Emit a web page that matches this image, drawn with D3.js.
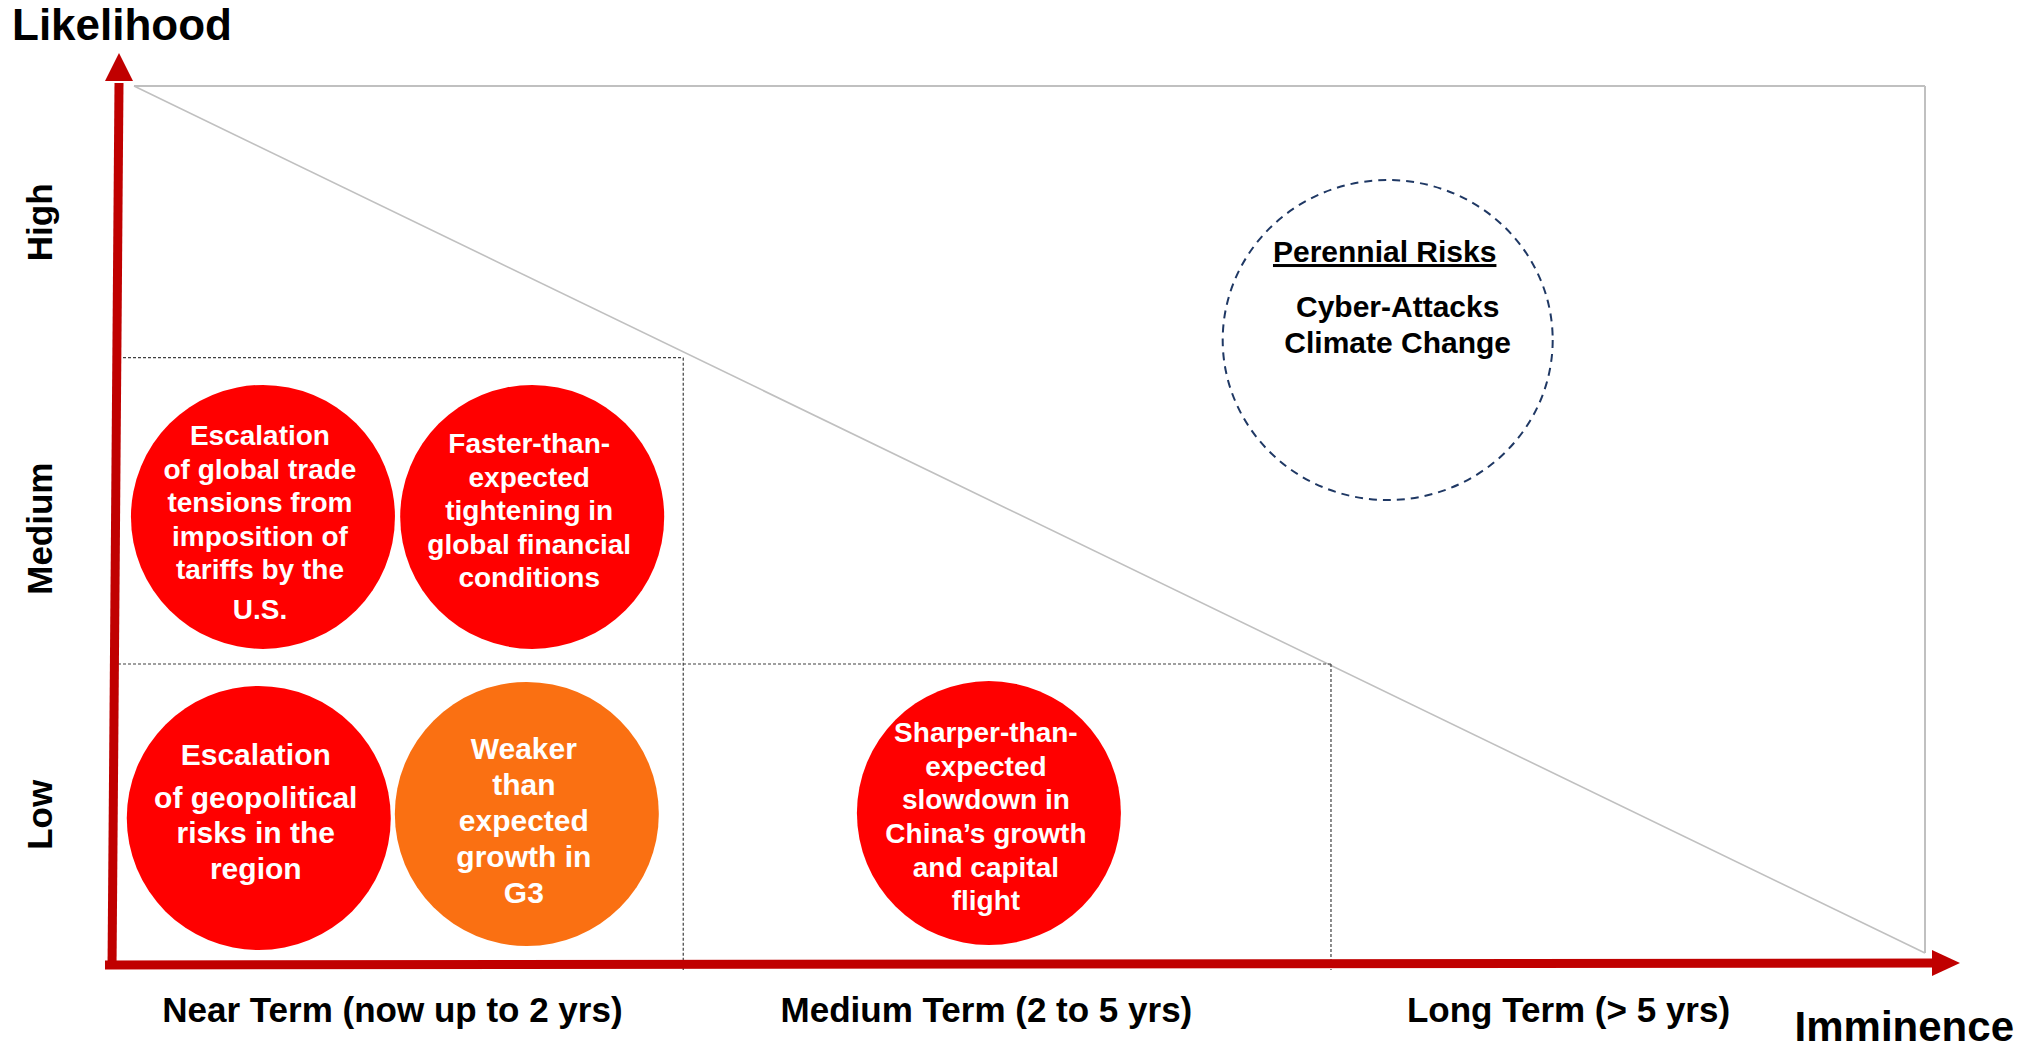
<!DOCTYPE html>
<html>
<head>
<meta charset="utf-8">
<script src="https://cdn.jsdelivr.net/npm/d3@7"></script>
<style>
  html, body { margin: 0; padding: 0; background: #fff; }
  svg { display: block; }
  text { font-family: "Liberation Sans", Arial, Helvetica, sans-serif; font-weight: bold; }
</style>
</head>
<body>
<svg id="chart" width="2026" height="1051"></svg>
<script>
// ---------- DATA ----------
const terms = ["Near Term (now up to 2 yrs)", "Medium Term (2 to 5 yrs)", "Long Term (> 5 yrs)"];
const termPositions = [0.432, 1.427, 2.402];          // imminence units
const levels = ["Low", "Medium", "High"];
const levelPositions = [0.48, 1.47, 2.53];            // likelihood units
const boundaryLevels = [2.06, 1.0];                   // dotted zone boundaries (likelihood)
const boundaryImminence = [0.92, 2.005];              // dotted zone boundaries (imminence)

const riskIds = ["trade", "financial", "geopolitical", "g3", "china"];
const riskImminence = [0.216, 0.667, 0.209, 0.658, 1.432];
const riskLikelihood = [1.509, 1.509, 0.467, 0.481, 0.484];
const riskSeverity = ["high", "high", "high", "medium", "high"];
const riskLines = [
  ["Escalation", "of global trade", "tensions from", "imposition of", "tariffs by the", "U.S."],
  ["Faster-than-", "expected", "tightening in", "global financial", "conditions"],
  ["Escalation", "of geopolitical", "risks in the", "region"],
  ["Weaker", "than", "expected", "growth in", "G3"],
  ["Sharper-than-", "expected", "slowdown in", "China\u2019s growth", "and capital", "flight"]
];

const perennialTitle = "Perennial Risks";
const perennialRisks = ["Cyber-Attacks", "Climate Change"];
const perennialImminence = 2.10;
const perennialLikelihood = 2.121;

// ---------- STYLES / LAYOUT ----------
const severityColor = { high: "#FF0000", medium: "#FA7012" };
const axisRed = "#C00000";
const textStyle = {
  trade:        { fs: 28, lh: 33.6, top: -72, gaps: { 5: 6 } },
  financial:    { fs: 28, lh: 33.6, top: -64, gaps: {} },
  geopolitical: { fs: 30, lh: 35.5, top: -53, gaps: { 1: 7, 2: 7, 3: 7 } },
  g3:           { fs: 30, lh: 36,   top: -55, gaps: {} },
  china:        { fs: 28, lh: 33.6, top: -71, gaps: {} }
};
const bubbleR = 132;

const svg = d3.select("#chart");
const x = d3.scaleLinear().domain([0, 3]).range([134, 1925]);
const y = d3.scaleLinear().domain([0, 3]).range([953, 86]);

// ---------- FRAME: top, right, diagonal ----------
const gray = "#C0C0C0";
svg.append("line").attr("x1", x(0)).attr("y1", y(3)).attr("x2", x(3)).attr("y2", y(3))
  .attr("stroke", gray).attr("stroke-width", 2);
svg.append("line").attr("x1", x(3)).attr("y1", y(3)).attr("x2", x(3)).attr("y2", y(0))
  .attr("stroke", gray).attr("stroke-width", 2);
svg.append("line").attr("x1", x(0)).attr("y1", y(3)).attr("x2", x(3)).attr("y2", y(0))
  .attr("stroke", gray).attr("stroke-width", 1.6);

// ---------- DOTTED ZONE BOUNDARIES ----------
const axisX = x(0) - 16, axisY = y(0) + 12;
boundaryLevels.forEach((lv, i) => {
  const xi = x(boundaryImminence[i]), yi = y(lv);
  svg.append("line").attr("x1", axisX).attr("y1", yi).attr("x2", xi).attr("y2", yi)
    .attr("stroke", "#404040").attr("stroke-width", 1.2).attr("stroke-dasharray", "3,2");
  svg.append("line").attr("x1", xi).attr("y1", yi).attr("x2", xi).attr("y2", axisY + 5)
    .attr("stroke", "#404040").attr("stroke-width", 1.2).attr("stroke-dasharray", "3,2");
});

// ---------- RISK BUBBLES ----------
const risks = riskIds.map((id, i) => ({
  id, imm: riskImminence[i], lik: riskLikelihood[i], sev: riskSeverity[i], lines: riskLines[i]
}));
const bubble = svg.selectAll("g.risk").data(risks).join("g").attr("class", "risk")
  .attr("transform", d => `translate(${x(d.imm)},${y(d.lik)})`);
bubble.append("circle").attr("r", bubbleR).attr("fill", d => severityColor[d.sev]);
bubble.each(function(d) {
  const st = textStyle[d.id];
  let extra = 0;
  d.lines.forEach((ln, i) => {
    if (st.gaps[i]) extra = st.gaps[i];
    d3.select(this).append("text")
      .attr("x", -3).attr("y", st.top + i * st.lh + extra)
      .attr("text-anchor", "middle").attr("fill", "#fff")
      .attr("font-size", st.fs).text(ln);
  });
});

// ---------- PERENNIAL RISKS ----------
const pg = svg.append("g")
  .attr("transform", `translate(${x(perennialImminence)},${y(perennialLikelihood)})`);
pg.append("ellipse").attr("rx", 165).attr("ry", 160).attr("fill", "none")
  .attr("stroke", "#1F3864").attr("stroke-width", 2).attr("stroke-dasharray", "8,6");
pg.append("text").attr("x", -3).attr("y", -78).attr("text-anchor", "middle")
  .attr("font-size", 30).attr("fill", "#000")
  .style("text-decoration", "underline").text(perennialTitle);
perennialRisks.forEach((r, i) => {
  pg.append("text").attr("x", 10).attr("y", -23 + i * 36).attr("text-anchor", "middle")
    .attr("font-size", 30).attr("fill", "#000").text(r);
});

// ---------- AXES (red arrows) ----------
// Y axis
const yTop = 81, yTipY = 53, yTopX = 119;
svg.append("line").attr("x1", axisX - 6).attr("y1", axisY + 4).attr("x2", yTopX).attr("y2", yTop + 2)
  .attr("stroke", axisRed).attr("stroke-width", 9);
svg.append("path")
  .attr("d", `M${yTopX - 14},${yTop} L${yTopX + 14},${yTop} L${yTopX},${yTipY} Z`)
  .attr("fill", axisRed);
// X axis
const xEnd = 1932, xTipX = 1960;
svg.append("line").attr("x1", axisX - 13).attr("y1", axisY).attr("x2", xEnd + 2).attr("y2", axisY - 2)
  .attr("stroke", axisRed).attr("stroke-width", 9);
svg.append("path")
  .attr("d", `M${xEnd},${axisY - 2 - 13} L${xEnd},${axisY - 2 + 13} L${xTipX},${axisY - 2} Z`)
  .attr("fill", axisRed);

// ---------- TICK LABELS via d3 axes ----------
const xAxis = d3.axisBottom(x).tickValues(termPositions).tickFormat((d, i) => terms[i]).tickSize(0);
const gx = svg.append("g").attr("transform", "translate(0,1022)").call(xAxis);
gx.select(".domain").remove();
gx.selectAll("text").attr("y", 0).attr("dy", 0)
  .attr("font-size", 35).attr("fill", "#000")
  .style("font-family", '"Liberation Sans", Arial, sans-serif').style("font-weight", "bold");

const yAxis = d3.axisLeft(y).tickValues(levelPositions).tickFormat((d, i) => levels[i]).tickSize(0);
const gy = svg.append("g").call(yAxis);
gy.select(".domain").remove();
gy.selectAll("text").attr("x", 0).attr("dy", 0)
  .attr("text-anchor", "middle").attr("transform", "translate(52,0) rotate(-90)")
  .attr("font-size", 35).attr("fill", "#000")
  .style("font-family", '"Liberation Sans", Arial, sans-serif').style("font-weight", "bold");

// ---------- AXIS TITLES ----------
svg.append("text").attr("x", 12).attr("y", 40).attr("font-size", 44).attr("fill", "#000").text("Likelihood");
svg.append("text").attr("x", 2014).attr("y", 1041).attr("text-anchor", "end")
  .attr("font-size", 42).attr("fill", "#000").text("Imminence");
</script>
</body>
</html>
